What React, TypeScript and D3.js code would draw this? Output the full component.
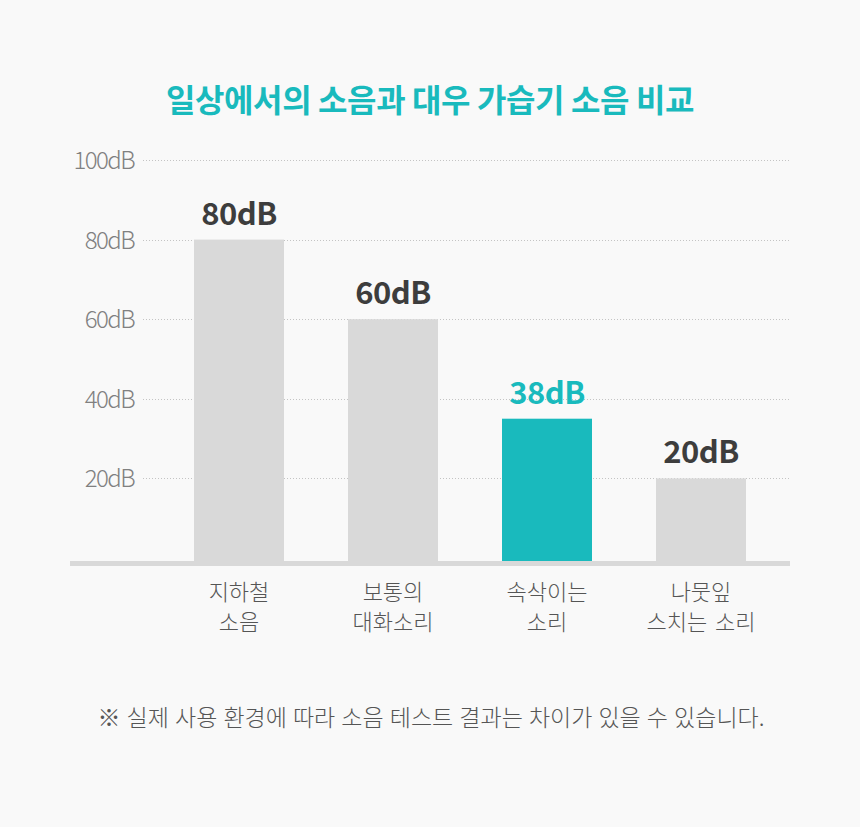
import { useEffect, useRef } from 'react';
import * as d3 from 'd3';

const categories = ['subway', 'talk', 'whisper', 'leaves'];
const categoryLines = [
  ['지하철', '소음'],
  ['보통의', '대화소리'],
  ['속삭이는', '소리'],
  ['나뭇잎', '스치는 소리'],
];
const barValues = [80, 60, 35, 20];
const valueLabels = ['80dB', '60dB', '38dB', '20dB'];
const highlight = 'whisper';
const yTicks = [20, 40, 60, 80, 100];

const width = 860;
const height = 827;
const TEAL = '#19babd';
const FONT = '"Noto Sans CJK KR", "Noto Sans", sans-serif';

export default function App() {
  const svgRef = useRef<SVGSVGElement>(null);

  useEffect(() => {
    document.body.style.margin = '0';
    document.body.style.background = '#f9f9f9';
    if (!svgRef.current) return;

    const svg = d3.select(svgRef.current);
    svg.selectAll('*').remove();
    svg.attr('width', width).attr('height', height).style('font-family', FONT);

    svg.append('rect').attr('width', width).attr('height', height).attr('fill', '#f9f9f9');

    const x = d3
      .scaleBand<string>()
      .domain(categories)
      .range([162, 778])
      .paddingInner(64 / 154)
      .paddingOuter(32 / 154);

    const y = d3.scaleLinear().domain([0, 100]).range([558, 160]);
    const axisY = 561;

    // Title
    svg
      .append('text')
      .attr('x', 430)
      .attr('y', 112)
      .attr('text-anchor', 'middle')
      .attr('fill', TEAL)
      .style('font-size', '32px')
      .style('font-weight', '700')
      .style('letter-spacing', '-0.4px')
      .text('일상에서의 소음과 대우 가습기 소음 비교');

    // Grid lines + tick labels
    const grid = svg.append('g');
    yTicks.forEach((t) => {
      grid
        .append('line')
        .attr('x1', 143)
        .attr('x2', 790)
        .attr('y1', Math.round(y(t)) + 0.5)
        .attr('y2', Math.round(y(t)) + 0.5)
        .attr('stroke', '#c4c4c4')
        .attr('stroke-width', 1)
        .attr('stroke-dasharray', '1,2');
      grid
        .append('text')
        .attr('x', 134)
        .attr('y', y(t) + 9)
        .attr('text-anchor', 'end')
        .attr('fill', '#808080')
        .style('font-size', '24px')
        .style('font-weight', '300')
        .style('letter-spacing', '-1.6px')
        .text(`${t}dB`);
    });

    // Bars
    categories.forEach((c, i) => {
      const bx = x(c) ?? 0;
      const top = y(barValues[i]);
      const isHi = c === highlight;
      svg
        .append('rect')
        .attr('x', bx)
        .attr('y', top)
        .attr('width', x.bandwidth())
        .attr('height', axisY - top)
        .attr('fill', isHi ? TEAL : '#d9d9d9');

      svg
        .append('text')
        .attr('x', bx + x.bandwidth() / 2)
        .attr('y', top - 15)
        .attr('text-anchor', 'middle')
        .attr('fill', isHi ? TEAL : '#3d3d3d')
        .style('font-size', '31px')
        .style('font-weight', '700')
        .style('letter-spacing', '-0.5px')
        .text(valueLabels[i]);

      categoryLines[i].forEach((line, j) => {
        svg
          .append('text')
          .attr('x', bx + x.bandwidth() / 2)
          .attr('y', 600 + j * 30)
          .attr('text-anchor', 'middle')
          .attr('fill', '#555')
          .style('font-size', '22px')
          .style('font-weight', '300')
          .style('word-spacing', '3px')
          .text(line);
      });
    });

    // Baseline axis
    svg
      .append('rect')
      .attr('x', 70)
      .attr('y', axisY)
      .attr('width', 720)
      .attr('height', 5)
      .attr('fill', '#d9d9d9');

    // Footnote
    svg
      .append('text')
      .attr('x', 431)
      .attr('y', 726)
      .attr('text-anchor', 'middle')
      .attr('fill', '#555')
      .style('font-size', '23px')
      .style('font-weight', '300')
      .style('word-spacing', '1px')
      .text('※ 실제 사용 환경에 따라 소음 테스트 결과는 차이가 있을 수 있습니다.');
  }, []);

  return <svg ref={svgRef} style={{ display: 'block' }}></svg>;
}
